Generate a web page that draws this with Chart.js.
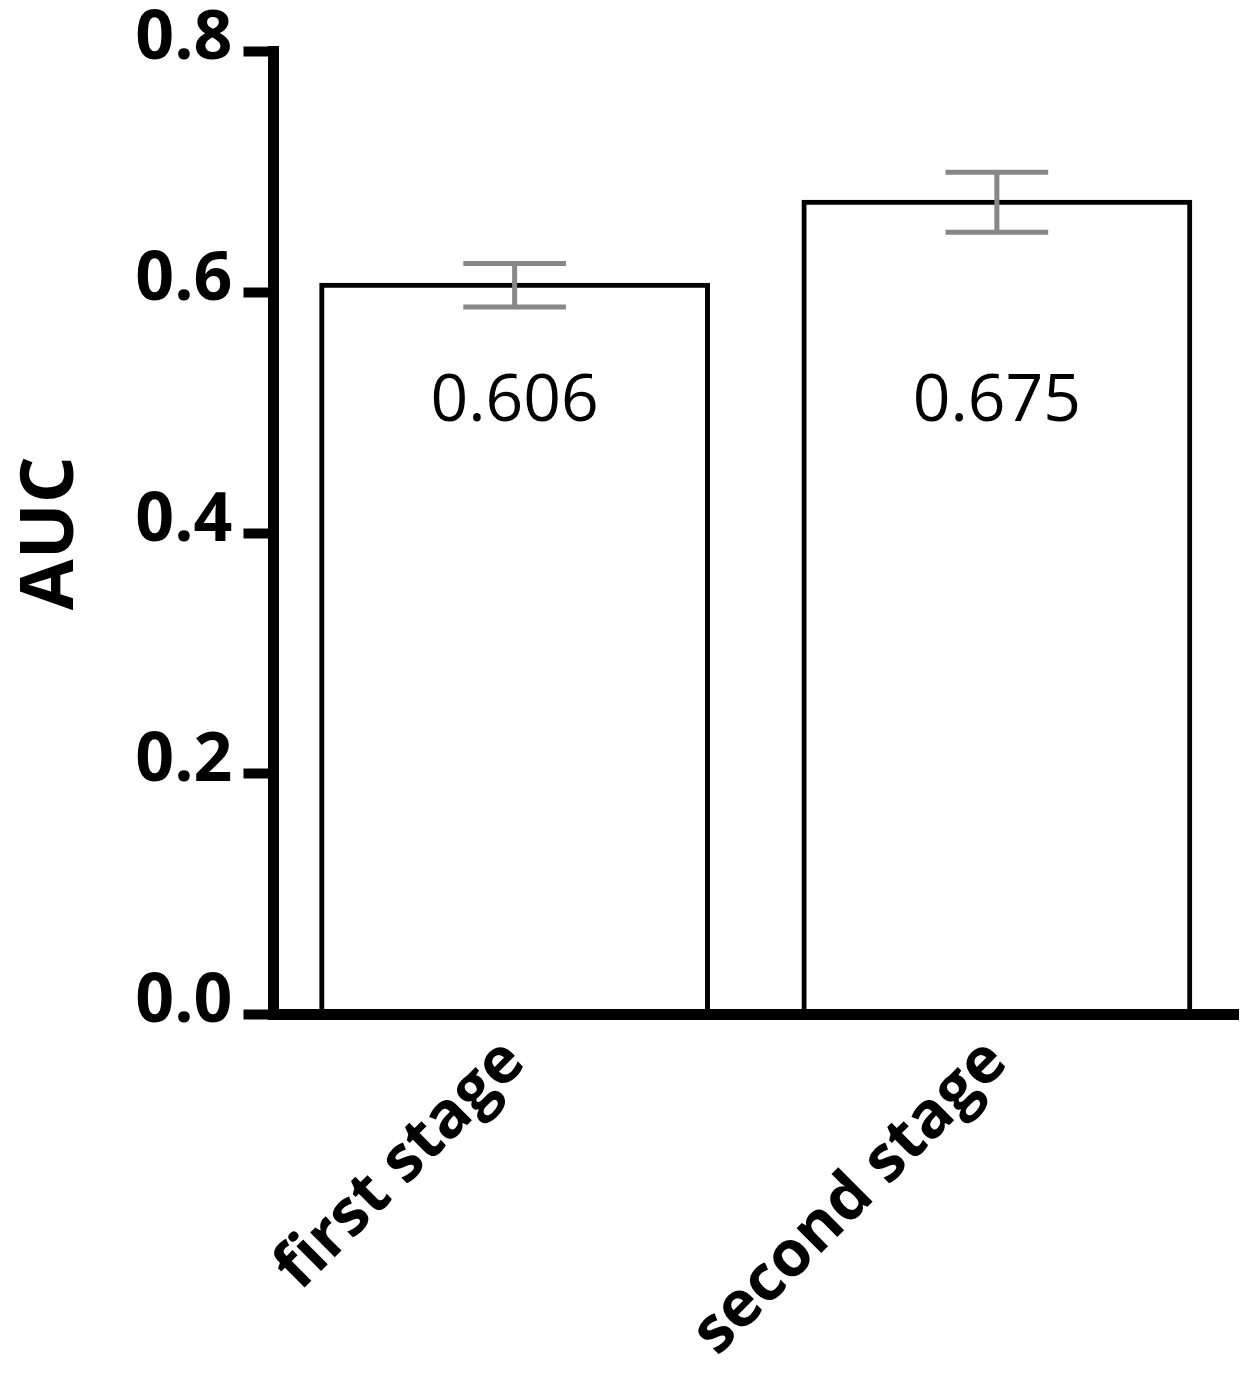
<!DOCTYPE html>
<html>
<head>
<meta charset="utf-8">
<script src="https://cdn.jsdelivr.net/npm/chart.js@4.4.0/dist/chart.umd.min.js"></script>
<style>
  html, body { margin: 0; padding: 0; background: #fff; }
  #wrap { width: 1258px; height: 1381px; position: relative; }
</style>
</head>
<body>
<div id="wrap"><canvas id="aucChart"></canvas></div>
<script>
'use strict';

// data
const stages = ['first stage', 'second stage'];
const aucValues = [0.606, 0.675];
const aucErrors = [0.018, 0.025];
const aucLabels = ['0.606', '0.675'];
const yTicks = [0.0, 0.2, 0.4, 0.6, 0.8];

const FONT = "'Open Sans', 'DejaVu Sans', sans-serif";
const ERR_COLOR = '#878787';

// draws the SD whiskers and the value printed inside each bar
const errorBarPlugin = {
  id: 'errorBars',
  afterDatasetsDraw(chart) {
    const { ctx } = chart;
    const yScale = chart.scales.y;
    const meta = chart.getDatasetMeta(0);
    ctx.save();
    meta.data.forEach((bar, i) => {
      const x = bar.x;
      const top = yScale.getPixelForValue(aucValues[i] + aucErrors[i]);
      const bottom = yScale.getPixelForValue(aucValues[i] - aucErrors[i]);
      const half = bar.width * 0.133;
      ctx.strokeStyle = ERR_COLOR;
      ctx.lineWidth = 5;
      ctx.lineCap = 'butt';
      ctx.beginPath();
      ctx.moveTo(x, top);
      ctx.lineTo(x, bottom);
      ctx.moveTo(x - half, top);
      ctx.lineTo(x + half, top);
      ctx.moveTo(x - half, bottom);
      ctx.lineTo(x + half, bottom);
      ctx.stroke();

      ctx.fillStyle = '#000';
      ctx.font = `400 66px ${FONT}`;
      ctx.textAlign = 'center';
      ctx.textBaseline = 'middle';
      ctx.fillText(aucLabels[i], x, yScale.getPixelForValue(0.509));
    });
    ctx.restore();
  }
};

new Chart(document.getElementById('aucChart'), {
  type: 'bar',
  data: {
    labels: stages,
    datasets: [{
      data: aucValues,
      backgroundColor: '#ffffff',
      borderColor: '#000000',
      borderWidth: 5,
      borderSkipped: false,
      inflateAmount: 2.5,
      barPercentage: 0.80,
      categoryPercentage: 1.0,
    }],
  },
  options: {
    responsive: true,
    maintainAspectRatio: false,
    animation: false,
    layout: { padding: { top: 51, right: 20, left: 0, bottom: 0 } },
    plugins: {
      legend: { display: false },
      tooltip: { enabled: false },
    },
    scales: {
      x: {
        grid: { display: false, drawTicks: false },
        border: { display: true, color: '#000', width: 11, z: 1 },
        ticks: {
          color: '#000',
          font: { family: FONT, size: 64, weight: '700' },
          minRotation: 45,
          maxRotation: 45,
          padding: 10,
        },
        afterFit: (scale) => { scale.height = 366.5; },
      },
      y: {
        min: 0,
        max: 0.8,
        afterBuildTicks: (scale) => { scale.ticks = yTicks.map(v => ({ value: v })); },
        grid: {
          z: 1,
          drawOnChartArea: false,
          drawTicks: true,
          tickLength: 30,
          tickWidth: 10,
          tickColor: '#000',
        },
        border: { display: true, color: '#000', width: 11, z: 1 },
        ticks: {
          color: '#000',
          font: { family: FONT, size: 68, weight: '700' },
          padding: 11,
          labelOffset: -12,
          callback: (v) => Number(v).toFixed(1),
        },
        title: {
          display: true,
          text: 'AUC',
          color: '#000',
          font: { family: FONT, size: 74, weight: '700' },
          padding: { top: 8, bottom: 0 },
        },
        afterFit: (scale) => { scale.width = 273.5; },
      },
    },
  },
  plugins: [errorBarPlugin],
});
</script>
</body>
</html>
